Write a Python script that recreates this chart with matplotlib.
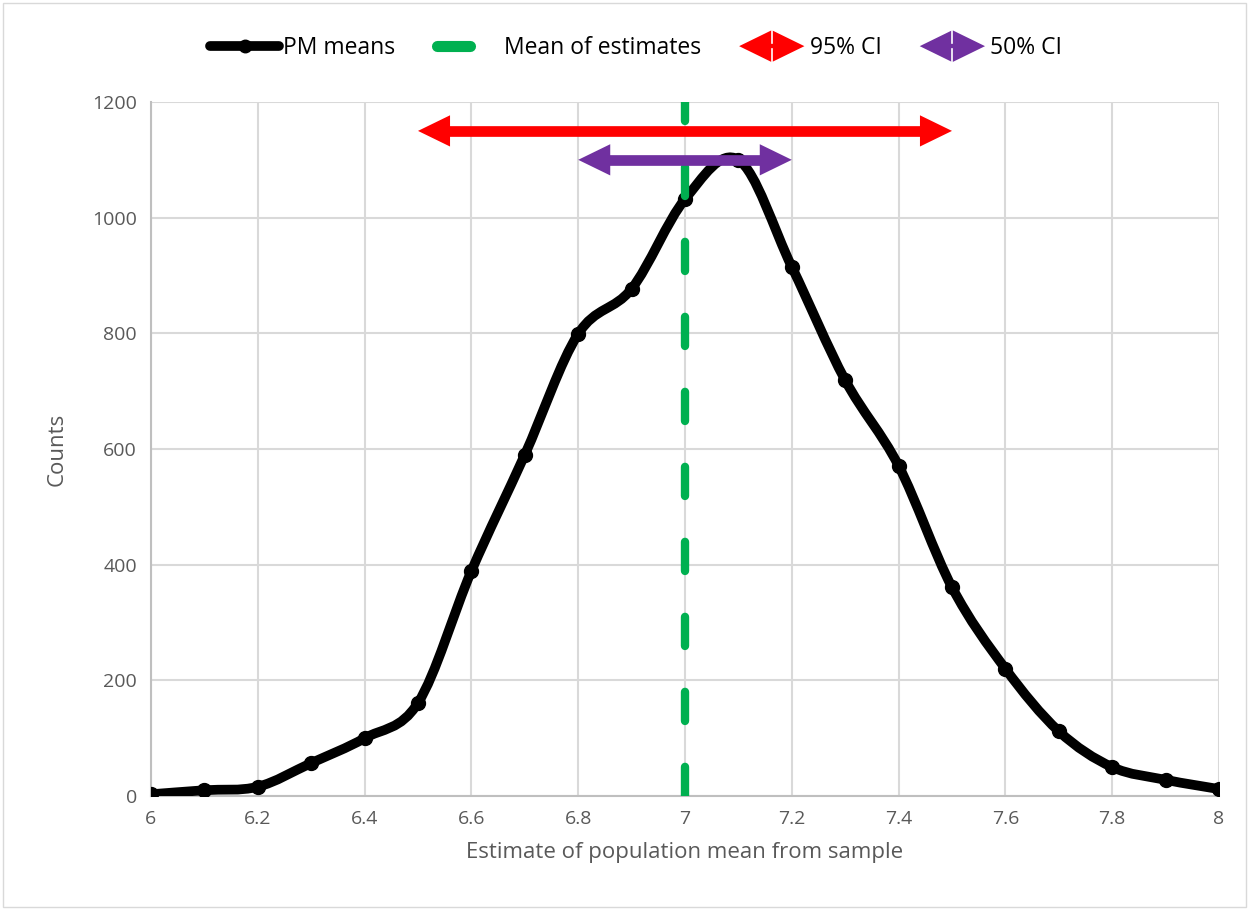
import matplotlib
matplotlib.use('Agg')
import matplotlib.pyplot as plt
import numpy as np
from matplotlib.path import Path
from matplotlib.patches import PathPatch, Polygon
from matplotlib.lines import Line2D
from matplotlib.legend_handler import HandlerBase

# data
estimates = [6.0, 6.1, 6.2, 6.3, 6.4, 6.5, 6.6, 6.7, 6.8, 6.9, 7.0,
             7.1, 7.2, 7.3, 7.4, 7.5, 7.6, 7.7, 7.8, 7.9, 8.0]
counts = [3, 10, 16, 57, 100, 161, 389, 590, 799, 877, 1032,
          1100, 915, 719, 571, 361, 220, 112, 50, 28, 12]
mean_of_estimates = 7.0
ci95 = (6.5, 7.5)
ci95_y = 1150
ci50 = (6.8, 7.2)
ci50_y = 1100

plt.rcParams['font.family'] = ['Open Sans', 'DejaVu Sans']

fig = plt.figure(figsize=(12.5, 9.09), dpi=100)
ax = fig.add_axes([0.1208, 0.1243, 0.8544, 0.7635])

ax.set_xlim(6, 8)
ax.set_ylim(0, 1200)
ax.set_xticks(np.arange(6, 8.01, 0.2))
ax.set_xticklabels(['6', '6.2', '6.4', '6.6', '6.8', '7', '7.2', '7.4', '7.6', '7.8', '8'])
ax.set_yticks(np.arange(0, 1201, 200))
ax.grid(True, color='#D9D9D9', lw=1.5)
ax.set_axisbelow(True)
for s in ['top', 'right']:
    ax.spines[s].set_visible(False)
for s in ['left', 'bottom']:
    ax.spines[s].set_color('#BFBFBF')
    ax.spines[s].set_linewidth(1.5)
ax.tick_params(length=0, labelsize=14, colors='#595959', pad=10)
ax.set_xlabel('Estimate of population mean from sample', fontsize=16, color='#595959', labelpad=10)
ax.set_ylabel('Counts', fontsize=16, color='#595959', labelpad=18)

# smoothed line (Excel style bezier through the points)
pts = np.column_stack([estimates, counts]).astype(float)
n = len(pts)
verts = [pts[0]]
codes = [Path.MOVETO]
for i in range(n - 1):
    p0 = pts[i - 1] if i > 0 else pts[i]
    p1 = pts[i]
    p2 = pts[i + 1]
    p3 = pts[i + 2] if i + 2 < n else pts[i + 1]
    verts += [p1 + (p2 - p0) / 6, p2 - (p3 - p1) / 6, p2]
    codes += [Path.CURVE4] * 3
ax.add_patch(PathPatch(Path(verts, codes), facecolor='none', edgecolor='black',
                       lw=7, capstyle='round', joinstyle='round', zorder=3))
ax.plot(estimates, counts, linestyle='none', marker='o', color='black', markersize=10, zorder=4)

# mean of estimates
ax.plot([mean_of_estimates, mean_of_estimates], [0, 1200], color='#00B050', lw=6,
        dashes=(3.5, 5.5), dash_capstyle='round', zorder=5)


# CI arrows: shaft plus two sharp heads
def draw_ci(lo, hi, y, color):
    head_len = 0.06   # x units (~32 px)
    head_half = 27    # y units (~16 px)
    ax.plot([lo + head_len * 0.9, hi - head_len * 0.9], [y, y], color=color, lw=7.7,
            solid_capstyle='butt', zorder=6)
    ax.add_patch(Polygon([[lo, y], [lo + head_len, y + head_half], [lo + head_len, y - head_half]],
                         closed=True, facecolor=color, edgecolor='none', zorder=6))
    ax.add_patch(Polygon([[hi, y], [hi - head_len, y + head_half], [hi - head_len, y - head_half]],
                         closed=True, facecolor=color, edgecolor='none', zorder=6))


draw_ci(ci95[0], ci95[1], ci95_y, '#FF0000')
draw_ci(ci50[0], ci50[1], ci50_y, '#7030A0')


class HandlerCI(HandlerBase):
    def create_artists(self, legend, orig_handle, xdescent, ydescent, width, height, fontsize, trans):
        cx = width / 2 - xdescent
        cy = height / 2 - ydescent
        hw = 23.5
        hh = 11.5
        diamond = Polygon([[cx - hw, cy], [cx, cy + hh], [cx + hw, cy], [cx, cy - hh]],
                          closed=True, facecolor=orig_handle.get_color(), edgecolor='none',
                          transform=trans)
        top = Line2D([cx, cx], [cy + hh, cy + hh * 0.2], color='white', lw=1.2, transform=trans)
        bot = Line2D([cx, cx], [cy - hh, cy - hh * 0.2], color='white', lw=1.2, transform=trans)
        return [diamond, top, bot]


class HandlerShort(HandlerBase):
    def create_artists(self, legend, orig_handle, xdescent, ydescent, width, height, fontsize, trans):
        cy = height / 2 - ydescent
        x0 = -xdescent + 4
        line = Line2D([x0, x0 + 24], [cy, cy], color=orig_handle.get_color(), lw=8,
                      solid_capstyle='round', transform=trans)
        return [line]


h_pm = Line2D([], [], color='black', lw=7, marker='o', markersize=9, solid_capstyle='round')
h_mean = Line2D([], [], color='#00B050')
h_95 = Line2D([], [], color='#FF0000')
h_50 = Line2D([], [], color='#7030A0')
fig.legend([h_pm, h_mean, h_95, h_50], ['PM means', 'Mean of estimates', '95% CI', '50% CI'],
           loc='center', bbox_to_anchor=(0.509, 0.947), ncol=4, frameon=False,
           fontsize=16.5, handlelength=3.0, columnspacing=1.6, handletextpad=0.15,
           handler_map={h_mean: HandlerShort(), h_95: HandlerCI(), h_50: HandlerCI()})

fig.patches.append(plt.Rectangle((0.002, 0.002), 0.995, 0.995, transform=fig.transFigure,
                                 fill=False, edgecolor='#D9D9D9', lw=1))

fig.savefig('out.png', dpi=100)
